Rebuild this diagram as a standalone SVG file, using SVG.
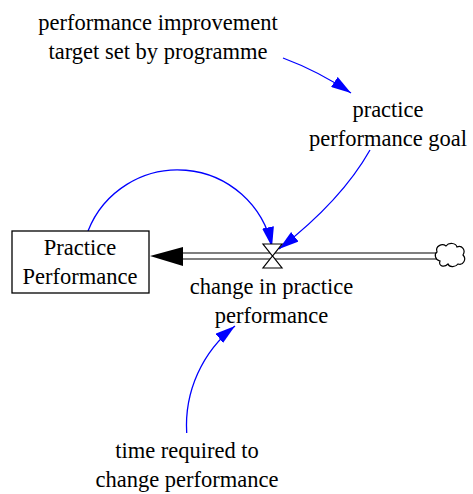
<svg xmlns="http://www.w3.org/2000/svg" width="473" height="494" viewBox="0 0 473 494">
<style>
text{font-family:"Liberation Serif","Times New Roman",serif;font-size:22.5px;fill:#000;text-anchor:middle}
.link{fill:none;stroke:#0000ff;stroke-width:1.3;marker-end:url(#ah)}
.pipe{fill:none;stroke:#000;stroke-width:1.2}
</style>
<defs>
<marker id="ah" markerUnits="userSpaceOnUse" viewBox="0 0 20 12" markerWidth="20" markerHeight="12" refX="20" refY="6" orient="auto">
<path d="M0,0 L20,6 L0,12 Z" fill="#0000ff"/>
</marker>
</defs>
<rect width="473" height="494" fill="#fff"/>
<g id="connectors">
<path class="link" d="M283,58 Q318,71 351,93"/>
<path class="link" d="M370,150 Q341.5,200.5 279,249"/>
<path class="link" d="M88,231 A96.3,96.3 0 0 1 272,247"/>
<path class="link" d="M186.7,433 A126.5,126.5 0 0 1 235,326"/>
</g>
<g id="flow-change">
<line class="pipe" x1="178" y1="253" x2="437" y2="253"/>
<line class="pipe" x1="178" y1="259" x2="437" y2="259"/>
<polygon points="150,256 183,247 183,266" fill="#000"/>
<path d="M263,244 L282,244 L272.5,256 Z M263,268 L282,268 L272.5,256 Z" fill="#fff" stroke="#000" stroke-width="1.2"/>
<text x="271.5" y="294">change in practice</text>
<text x="271.5" y="323">performance</text>
</g>
<g id="cloud">
<path d="M437,252 C435,246 442,243 446,246 C449,242 456,243 457,247 C462,245 466,250 463,255 C467,259 463,266 458,264 C455,268 449,267 448,264 C444,268 438,266 440,261 C435,260 434,254 437,252 Z" fill="#fff" stroke="#000" stroke-width="1.2"/>
</g>
<g id="practice-performance">
<rect x="12" y="231" width="137" height="62" fill="#fff" stroke="#000" stroke-width="1.3"/>
<text x="80" y="255">Practice</text>
<text x="80" y="284">Performance</text>
</g>
<g id="performance-improvement-target">
<text x="158" y="30">performance improvement</text>
<text x="158" y="59">target set by programme</text>
</g>
<g id="practice-performance-goal">
<text x="388" y="117">practice</text>
<text x="388" y="146">performance goal</text>
</g>
<g id="time-required">
<text x="187" y="458">time required to</text>
<text x="187" y="487">change performance</text>
</g>
</svg>
